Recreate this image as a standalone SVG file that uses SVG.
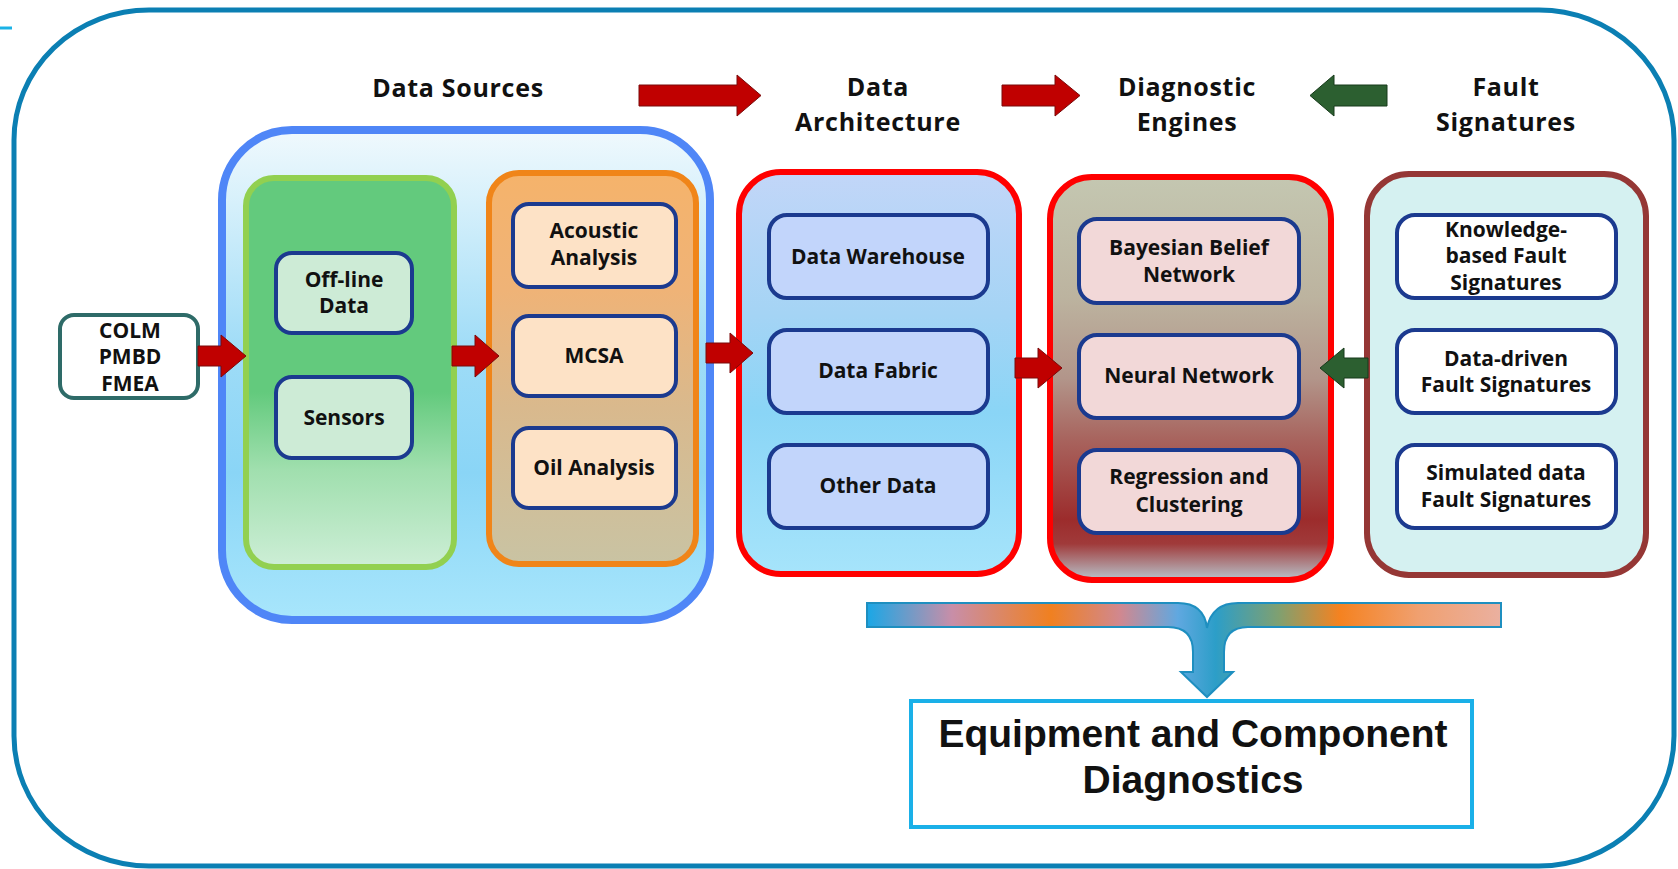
<svg xmlns="http://www.w3.org/2000/svg" width="1678" height="869" viewBox="0 0 1678 869">
<defs>
<style>
.t{font-family:"Open Sans","DejaVu Sans",sans-serif;font-weight:bold;fill:#111;text-anchor:middle}
.title{font-size:25px;letter-spacing:0.7px}
.lbl{font-size:21px}
.inner{stroke:#1b3a8f;stroke-width:4}
.red{fill:#c00000;stroke:#7a0a0a;stroke-width:1}
.grn{fill:#2c5f30;stroke:#173a1b;stroke-width:1}
</style>
<linearGradient id="gBlue" x1="0" y1="0" x2="0" y2="1">
<stop offset="0" stop-color="#f0f9fd"/><stop offset="0.15" stop-color="#d6f0fb"/><stop offset="0.45" stop-color="#9fdcf7"/><stop offset="0.7" stop-color="#8ad5f6"/><stop offset="1" stop-color="#a8e6fc"/>
</linearGradient>
<linearGradient id="gGreen" x1="0" y1="0" x2="0" y2="1">
<stop offset="0" stop-color="#63ca7d"/><stop offset="0.55" stop-color="#63ca7d"/><stop offset="0.75" stop-color="#a0dfae"/><stop offset="1" stop-color="#cdeed6"/>
</linearGradient>
<linearGradient id="gOrange" x1="0" y1="0" x2="0" y2="1">
<stop offset="0" stop-color="#f5b36b"/><stop offset="0.3" stop-color="#efb377"/><stop offset="0.6" stop-color="#d9b98d"/><stop offset="1" stop-color="#c9c3a3"/>
</linearGradient>
<linearGradient id="gArch" x1="0" y1="0" x2="0" y2="1">
<stop offset="0" stop-color="#c2d6f8"/><stop offset="0.35" stop-color="#a5d4f5"/><stop offset="0.6" stop-color="#8ad5f6"/><stop offset="1" stop-color="#a6e4fb"/>
</linearGradient>
<linearGradient id="gDiag" x1="0" y1="0" x2="0" y2="1">
<stop offset="0" stop-color="#c4c7b1"/><stop offset="0.3" stop-color="#bcb39f"/><stop offset="0.5" stop-color="#b2958a"/><stop offset="0.65" stop-color="#a8645e"/><stop offset="0.85" stop-color="#9c2c2c"/><stop offset="0.91" stop-color="#a03a3a"/><stop offset="1" stop-color="#b8c4cc"/>
</linearGradient>
<linearGradient id="gBrace" gradientUnits="userSpaceOnUse" x1="867" y1="0" x2="1501" y2="0">
<stop offset="0" stop-color="#1aa7e6"/><stop offset="0.134" stop-color="#c88ea8"/><stop offset="0.29" stop-color="#f08020"/><stop offset="0.4" stop-color="#d08890"/><stop offset="0.49" stop-color="#60a8e0"/><stop offset="0.55" stop-color="#2c9ec8"/><stop offset="0.65" stop-color="#80a070"/><stop offset="0.746" stop-color="#f58220"/><stop offset="0.87" stop-color="#f0a070"/><stop offset="1" stop-color="#eab0a0"/>
</linearGradient>
</defs>
<rect width="1678" height="869" fill="#ffffff"/>
<g id="frame">
<rect x="14" y="10" width="1660" height="856" rx="135" ry="130" fill="none" stroke="#0b7fb3" stroke-width="5"/>
<line x1="0" y1="28" x2="12" y2="28" stroke="#1ab2e6" stroke-width="3"/>
</g>
<g id="titles">
<text class="t title" x="458" y="97">Data Sources</text>
<text class="t title" x="878" y="96">Data</text>
<text class="t title" x="878" y="131">Architecture</text>
<text class="t title" x="1187" y="96">Diagnostic</text>
<text class="t title" x="1187" y="131">Engines</text>
<text class="t title" x="1506" y="96">Fault</text>
<text class="t title" x="1506" y="131">Signatures</text>
</g>
<g id="input">
<rect x="60" y="315" width="138" height="83" rx="14" fill="#ffffff" stroke="#2e6b68" stroke-width="4"/>
<text class="t lbl" x="130" y="338">COLM</text>
<text class="t lbl" x="130" y="364">PMBD</text>
<text class="t lbl" x="130" y="391">FMEA</text>
</g>
<g id="data-sources">
<rect x="222" y="130" width="488" height="490" rx="70" fill="url(#gBlue)" stroke="#4f86f7" stroke-width="8"/>
</g>
<g id="collection">
<rect x="246" y="178" width="208" height="389" rx="28" fill="url(#gGreen)" stroke="#92d050" stroke-width="6"/>
</g>
<g id="offline">
<rect class="inner" x="276" y="253" width="136" height="80" rx="16" fill="#cdebd6"/>
<text class="t lbl" x="344" y="287">Off-line</text>
<text class="t lbl" x="344" y="313">Data</text>
</g>
<g id="sensors">
<rect class="inner" x="276" y="377" width="136" height="81" rx="16" fill="#cdebd6"/>
<text class="t lbl" x="344" y="425">Sensors</text>
</g>
<g id="analysis">
<rect x="489" y="173" width="207" height="391" rx="30" fill="url(#gOrange)" stroke="#f08519" stroke-width="6"/>
</g>
<g id="acoustic">
<rect class="inner" x="513" y="204" width="163" height="83" rx="16" fill="#fde2c6"/>
<text class="t lbl" x="594" y="238">Acoustic</text>
<text class="t lbl" x="594" y="265">Analysis</text>
</g>
<g id="mcsa">
<rect class="inner" x="513" y="316" width="163" height="80" rx="16" fill="#fde2c6"/>
<text class="t lbl" x="594" y="363">MCSA</text>
</g>
<g id="oil">
<rect class="inner" x="513" y="428" width="163" height="80" rx="16" fill="#fde2c6"/>
<text class="t lbl" x="594" y="475">Oil Analysis</text>
</g>
<g id="data-architecture">
<rect x="739" y="172" width="280" height="402" rx="42" fill="url(#gArch)" stroke="#ff0000" stroke-width="6"/>
</g>
<g id="warehouse">
<rect class="inner" x="769" y="215" width="219" height="83" rx="18" fill="#c2d5fb"/>
<text class="t lbl" x="878" y="264">Data Warehouse</text>
</g>
<g id="fabric">
<rect class="inner" x="769" y="330" width="219" height="83" rx="18" fill="#c2d5fb"/>
<text class="t lbl" x="878" y="378">Data Fabric</text>
</g>
<g id="other">
<rect class="inner" x="769" y="445" width="219" height="83" rx="18" fill="#c2d5fb"/>
<text class="t lbl" x="878" y="493">Other Data</text>
</g>
<g id="diagnostic-engines">
<rect x="1050" y="177" width="281" height="403" rx="42" fill="url(#gDiag)" stroke="#ff0000" stroke-width="6"/>
</g>
<g id="bayesian">
<rect class="inner" x="1079" y="219" width="220" height="84" rx="18" fill="#f2d8d8"/>
<text class="t lbl" x="1189" y="255">Bayesian Belief</text>
<text class="t lbl" x="1189" y="282">Network</text>
</g>
<g id="neural">
<rect class="inner" x="1079" y="335" width="220" height="83" rx="18" fill="#f2d8d8"/>
<text class="t lbl" x="1189" y="383">Neural Network</text>
</g>
<g id="regression">
<rect class="inner" x="1079" y="450" width="220" height="83" rx="18" fill="#f2d8d8"/>
<text class="t lbl" x="1189" y="484">Regression and</text>
<text class="t lbl" x="1189" y="512">Clustering</text>
</g>
<g id="fault-signatures">
<rect x="1367" y="174" width="279" height="401" rx="42" fill="#d5f1f1" stroke="#953735" stroke-width="6"/>
</g>
<g id="knowledge">
<rect class="inner" x="1397" y="215" width="219" height="83" rx="18" fill="#ffffff"/>
<text class="t lbl" x="1506" y="237">Knowledge-</text>
<text class="t lbl" x="1506" y="263">based Fault</text>
<text class="t lbl" x="1506" y="290">Signatures</text>
</g>
<g id="datadriven">
<rect class="inner" x="1397" y="330" width="219" height="83" rx="18" fill="#ffffff"/>
<text class="t lbl" x="1506" y="366">Data-driven</text>
<text class="t lbl" x="1506" y="392">Fault Signatures</text>
</g>
<g id="simulated">
<rect class="inner" x="1397" y="445" width="219" height="83" rx="18" fill="#ffffff"/>
<text class="t lbl" x="1506" y="480">Simulated data</text>
<text class="t lbl" x="1506" y="507">Fault Signatures</text>
</g>
<g id="result">
<rect x="911" y="701" width="561" height="126" fill="#ffffff" stroke="#1ab0e8" stroke-width="4"/>
<text x="1193" y="747" font-family="Liberation Sans, Arial, sans-serif" font-weight="bold" font-size="39" text-anchor="middle" fill="#111">Equipment and Component</text>
<text x="1193" y="793" font-family="Liberation Sans, Arial, sans-serif" font-weight="bold" font-size="39" text-anchor="middle" fill="#111">Diagnostics</text>
</g>
<g id="connectors">
<path class="red" d="M639,85 H737 V75 L761,95.5 L737,116 V106 H639 Z"/>
<path class="red" d="M1002,85 H1055 V75 L1080,95.5 L1055,116 V106 H1002 Z"/>
<path class="grn" d="M1387,85 H1334 V75 L1310,95.5 L1334,116 V106 H1387 Z"/>
<path class="red" d="M198,346 H221 V335 L246,356 L221,377 V366 H198 Z"/>
<path class="red" d="M452,346 H475 V335 L499,356 L475,377 V366 H452 Z"/>
<path class="red" d="M706,343 H730 V333 L753,353 L730,373 V363 H706 Z"/>
<path class="red" d="M1015,358 H1038 V348 L1062,368 L1038,388 V378 H1015 Z"/>
<path class="grn" d="M1368,358 H1344 V348 L1320,368 L1344,388 V378 H1368 Z"/>
<path d="M867,603 L1178,603 Q1204,603 1207,628 Q1212,603 1238,603 L1501,603 L1501,627 L1248,627 Q1224,627 1224,652 L1224,672 L1233,672 L1207,697 L1181,672 L1193,672 L1193,652 Q1193,627 1168,627 L867,627 Z" fill="url(#gBrace)" stroke="#1e8fc0" stroke-width="2"/>
</g>
</svg>
